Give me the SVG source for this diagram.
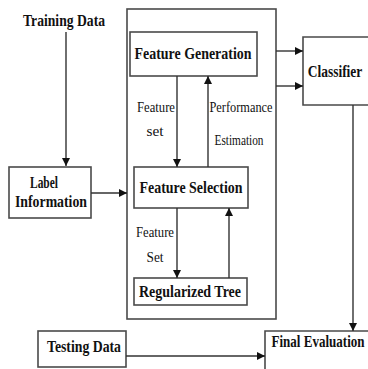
<svg xmlns="http://www.w3.org/2000/svg" width="368" height="369" viewBox="0 0 368 369">
<style>
.box{fill:#fff;stroke:#4a4a4a;stroke-width:1.6}
.t{font-family:"Liberation Serif","Times New Roman",serif;font-weight:bold;font-size:17.5px;fill:#111;text-anchor:middle}
.a{font-family:"Liberation Serif","Times New Roman",serif;font-size:15.5px;fill:#111;text-anchor:middle}
.c{fill:none;stroke:#333;stroke-width:1.4}
</style>
<defs>
<marker id="ah" markerUnits="userSpaceOnUse" markerWidth="9" markerHeight="8" refX="8" refY="4" orient="auto">
<path d="M0,0 L8,4 L0,8 z" fill="#111"/>
</marker>
</defs>
<rect width="368" height="369" fill="#fff"/>
<g id="container"><rect class="box" x="127" y="9" width="149" height="310"/></g>
<g id="training-data"><text class="t" x="64" y="26" textLength="82" lengthAdjust="spacingAndGlyphs">Training Data</text></g>
<g id="label-information"><rect class="box" x="9" y="167" width="82" height="51"/>
<text class="t" x="44" y="188" textLength="28" lengthAdjust="spacingAndGlyphs">Label</text>
<text class="t" x="51" y="207" textLength="72" lengthAdjust="spacingAndGlyphs">Information</text></g>
<g id="feature-generation"><rect class="box" x="130" y="32" width="127" height="44"/>
<text class="t" x="193" y="59" textLength="117" lengthAdjust="spacingAndGlyphs">Feature Generation</text></g>
<g id="feature-selection"><rect class="box" x="134" y="167" width="114" height="41"/>
<text class="t" x="191" y="193" textLength="103" lengthAdjust="spacingAndGlyphs">Feature Selection</text></g>
<g id="regularized-tree"><rect class="box" x="134" y="278" width="113" height="27"/>
<text class="t" x="190" y="297" textLength="102" lengthAdjust="spacingAndGlyphs">Regularized Tree</text></g>
<g id="classifier"><path class="box" d="M368,37 H303 V105 H368"/>
<text class="t" transform="translate(335,77) scale(0.77,1)">Classifier</text></g>
<g id="testing-data"><rect class="box" x="38" y="331" width="88" height="36"/>
<text class="t" x="84" y="352" textLength="74" lengthAdjust="spacingAndGlyphs">Testing Data</text></g>
<g id="final-evaluation"><path class="box" d="M368,331 H265 V369"/>
<text class="t" transform="translate(318,347) scale(0.745,1)">Final Evaluation</text></g>
<g id="labels">
<text class="a" x="156" y="112" textLength="38" lengthAdjust="spacingAndGlyphs">Feature</text>
<text class="a" x="155" y="136" textLength="17" lengthAdjust="spacingAndGlyphs">set</text>
<text class="a" x="241" y="112" textLength="63" lengthAdjust="spacingAndGlyphs">Performance</text>
<text class="a" x="239" y="145" textLength="49" lengthAdjust="spacingAndGlyphs">Estimation</text>
<text class="a" x="155" y="237" textLength="38" lengthAdjust="spacingAndGlyphs">Feature</text>
<text class="a" x="155" y="262" textLength="17" lengthAdjust="spacingAndGlyphs">Set</text>
</g>
<g id="connectors">
<line class="c" x1="66" y1="32" x2="66" y2="166" marker-end="url(#ah)"/>
<line class="c" x1="91" y1="193" x2="127" y2="193" marker-end="url(#ah)"/>
<line class="c" x1="177" y1="76" x2="177" y2="167" marker-end="url(#ah)"/>
<line class="c" x1="208" y1="167" x2="208" y2="76" marker-end="url(#ah)"/>
<line class="c" x1="177" y1="208" x2="177" y2="278" marker-end="url(#ah)"/>
<line class="c" x1="229" y1="278" x2="229" y2="208" marker-end="url(#ah)"/>
<line class="c" x1="276" y1="51" x2="303" y2="51" marker-end="url(#ah)"/>
<line class="c" x1="276" y1="86" x2="303" y2="86" marker-end="url(#ah)"/>
<line class="c" x1="353" y1="105" x2="353" y2="331" marker-end="url(#ah)"/>
<line class="c" x1="126" y1="356" x2="265" y2="356" marker-end="url(#ah)"/>
</g>
</svg>
